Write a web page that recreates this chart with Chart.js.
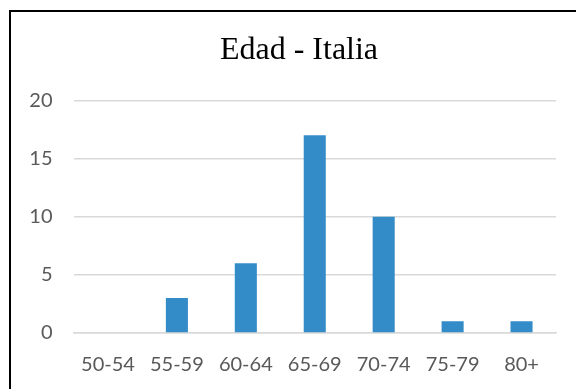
<!DOCTYPE html>
<html>
<head>
<meta charset="utf-8">
<script src="https://cdn.jsdelivr.net/npm/chart.js@4"></script>
<style>
  html, body { margin: 0; padding: 0; background: #fff; }
  #wrap { position: relative; width: 576px; height: 389px; }
</style>
</head>
<body>
<div id="wrap"><canvas id="chart1"></canvas></div>
<script>
var edades = ['50-54', '55-59', '60-64', '65-69', '70-74', '75-79', '80+'];
var cantidad = [0, 3, 6, 17, 10, 1, 1];
var ticksY = [0, 5, 10, 15, 20];

// marco negro arriba e izquierda, y titulo un poco a la derecha
var marco = {
  id: 'marco',
  afterLayout: function(chart) {
    chart.titleBlock.left = 42;
  },
  afterDraw: function(chart) {
    var ctx = chart.ctx;
    ctx.save();
    ctx.strokeStyle = '#000';
    ctx.lineWidth = 2;
    ctx.beginPath();
    ctx.moveTo(10, 389);
    ctx.lineTo(10, 11);
    ctx.lineTo(576, 11);
    ctx.stroke();
    ctx.restore();
  }
};

const chartEdad = document.getElementById('chart1');
new Chart(chartEdad, {
  type: 'bar',
  data: {
    labels: edades,
    datasets: [{
      label: 'Edad',
      data: cantidad,
      backgroundColor: '#338bc8',
      borderWidth: 0,
      barPercentage: 0.32,
      categoryPercentage: 1
    }]
  },
  options: {
    responsive: true,
    maintainAspectRatio: false,
    animation: false,
    layout: { padding: { left: 0, right: 20, top: 0, bottom: 0 } },
    plugins: {
      legend: { display: false },
      tooltip: { enabled: false },
      title: {
        display: true,
        text: 'Edad - Italia',
        color: '#000',
        font: { family: '"Liberation Serif", "Times New Roman", serif', size: 32, weight: 'normal' },
        padding: { top: 31, bottom: 31 }
      }
    },
    scales: {
      x: {
        grid: { display: false },
        border: { display: true, color: '#d9d9d9', width: 1.5 },
        ticks: {
          color: '#595959',
          font: { family: 'Lato, "Open Sans", sans-serif', size: 20 },
          padding: 12,
          maxRotation: 0
        }
      },
      y: {
        min: 0,
        max: 20,
        afterFit: function(axis) { axis.width = 73.5; },
        afterBuildTicks: function(axis) {
          axis.ticks = ticksY.map(function(v) { return { value: v }; });
        },
        grid: { color: '#d9d9d9', lineWidth: 1.5, drawTicks: false },
        border: { display: false },
        ticks: {
          color: '#595959',
          font: { family: 'Lato, "Open Sans", sans-serif', size: 20 },
          padding: 21
        }
      }
    }
  },
  plugins: [marco]
});
</script>
</body>
</html>
